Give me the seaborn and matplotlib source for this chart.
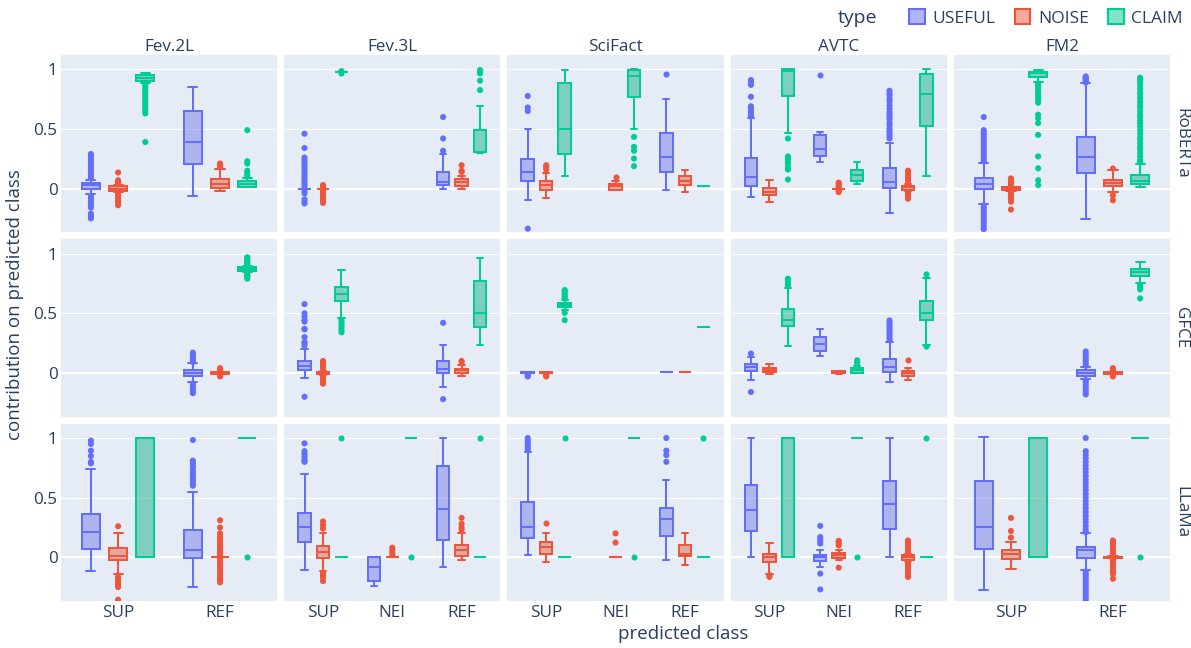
import numpy as np
import pandas as pd
import matplotlib
matplotlib.use("Agg")
import matplotlib.pyplot as plt
from matplotlib.patches import Patch
import seaborn as sns

MODELS = ["RoBERTa", "GFCE", "LLaMa"]
DATASETS = ["Fev.2L", "Fev.3L", "SciFact", "AVTC", "FM2"]
CLASSES_2 = ["SUP", "REF"]
CLASSES_3 = ["SUP", "NEI", "REF"]
DATASET_CLASSES = [CLASSES_2, CLASSES_3, CLASSES_3, CLASSES_3, CLASSES_2]
TYPES = ["USEFUL", "NOISE", "CLAIM"]
COLORS = ["#636EFA", "#EF553B", "#00CC96"]
Y_TICKS = [0, 0.5, 1]
Y_TICK_LABELS = ["0", "0.5", "1"]

# box summaries: (dataset, class, type, low whisker, q1, median, q3, high whisker)
BOX_ROBERTA = [
    ("Fev.2L", "SUP", "USEFUL", -0.042, 0.0, 0.028, 0.048, 0.076),
    ("Fev.2L", "SUP", "NOISE", -0.03, -0.02, 0.0, 0.02, 0.03),
    ("Fev.2L", "SUP", "CLAIM", 0.888, 0.905, 0.93, 0.95, 0.972),
    ("Fev.2L", "REF", "USEFUL", -0.064, 0.204, 0.387, 0.65, 0.852),
    ("Fev.2L", "REF", "NOISE", -0.022, 0.008, 0.042, 0.078, 0.168),
    ("Fev.2L", "REF", "CLAIM", 0.014, 0.017, 0.039, 0.062, 0.09),
    ("Fev.3L", "SUP", "USEFUL", 0.0, 0.0, 0.0, 0.0, 0.0),
    ("Fev.3L", "SUP", "NOISE", 0.0, 0.0, 0.0, 0.0, 0.0),
    ("Fev.3L", "SUP", "CLAIM", 0.975, 0.975, 0.975, 0.975, 0.975),
    ("Fev.3L", "REF", "USEFUL", -0.006, 0.028, 0.056, 0.14, 0.288),
    ("Fev.3L", "REF", "NOISE", -0.006, 0.025, 0.056, 0.081, 0.106),
    ("Fev.3L", "REF", "CLAIM", 0.30, 0.303, 0.31, 0.49, 0.692),
    ("SciFact", "SUP", "USEFUL", -0.098, 0.064, 0.14, 0.249, 0.5),
    ("SciFact", "SUP", "NOISE", -0.078, -0.008, 0.034, 0.064, 0.13),
    ("SciFact", "SUP", "CLAIM", 0.104, 0.286, 0.5, 0.888, 0.994),
    ("SciFact", "NEI", "NOISE", -0.008, -0.008, 0.022, 0.04, 0.064),
    ("SciFact", "NEI", "CLAIM", 0.5, 0.77, 0.94, 0.994, 1.0),
    ("SciFact", "REF", "USEFUL", -0.014, 0.143, 0.266, 0.462, 0.75),
    ("SciFact", "REF", "NOISE", -0.031, 0.031, 0.064, 0.104, 0.154),
    ("SciFact", "REF", "CLAIM", 0.02, 0.02, 0.02, 0.02, 0.02),
    ("AVTC", "SUP", "USEFUL", -0.07, 0.02, 0.098, 0.26, 0.588),
    ("AVTC", "SUP", "NOISE", -0.112, -0.053, -0.025, 0.006, 0.07),
    ("AVTC", "SUP", "CLAIM", 0.468, 0.776, 0.99, 1.0, 1.0),
    ("AVTC", "NEI", "USEFUL", 0.221, 0.277, 0.336, 0.451, 0.476),
    ("AVTC", "NEI", "NOISE", 0.0, 0.0, 0.0, 0.0, 0.0),
    ("AVTC", "NEI", "CLAIM", 0.036, 0.064, 0.112, 0.154, 0.224),
    ("AVTC", "REF", "USEFUL", -0.204, 0.008, 0.056, 0.174, 0.384),
    ("AVTC", "REF", "NOISE", -0.02, -0.008, 0.011, 0.025, 0.04),
    ("AVTC", "REF", "CLAIM", 0.109, 0.527, 0.79, 0.958, 1.0),
    ("FM2", "SUP", "USEFUL", -0.132, -0.006, 0.036, 0.092, 0.218),
    ("FM2", "SUP", "NOISE", -0.02, -0.01, 0.0, 0.01, 0.014),
    ("FM2", "SUP", "CLAIM", 0.896, 0.938, 0.966, 0.98, 0.994),
    ("FM2", "REF", "USEFUL", -0.258, 0.132, 0.266, 0.434, 0.882),
    ("FM2", "REF", "NOISE", -0.028, 0.02, 0.048, 0.076, 0.154),
    ("FM2", "REF", "CLAIM", 0.014, 0.036, 0.064, 0.112, 0.204),
]

OUT_ROBERTA = [
    ("Fev.2L", "SUP", "USEFUL", [0.09, 0.11, 0.13, 0.15, 0.17, 0.19, 0.21, 0.23, 0.25, 0.27, 0.29,
                                 -0.06, -0.08, -0.1, -0.12, -0.14, -0.16, -0.21, -0.23, -0.25]),
    ("Fev.2L", "SUP", "NOISE", [0.04, 0.05, 0.06, 0.07, 0.135, -0.04, -0.06, -0.08, -0.1, -0.12, -0.14]),
    ("Fev.2L", "SUP", "CLAIM", [0.87, 0.85, 0.83, 0.81, 0.79, 0.77, 0.75, 0.73, 0.71, 0.69, 0.67, 0.65, 0.63, 0.39]),
    ("Fev.2L", "REF", "NOISE", [0.18, 0.2, 0.21]),
    ("Fev.2L", "REF", "CLAIM", [0.11, 0.13, 0.15, 0.21, 0.23, 0.49]),
    ("Fev.3L", "SUP", "USEFUL", [0.02, 0.04, 0.06, 0.08, 0.1, 0.12, 0.14, 0.16, 0.18, 0.2, 0.22, 0.24, 0.26,
                                 0.34, 0.46, -0.02, -0.04, -0.09, -0.11, -0.125]),
    ("Fev.3L", "SUP", "NOISE", [0.01, 0.02, 0.03, -0.02, -0.04, -0.06, -0.08, -0.1, -0.12]),
    ("Fev.3L", "SUP", "CLAIM", [0.965, 0.985]),
    ("Fev.3L", "REF", "USEFUL", [0.317, 0.42, 0.6]),
    ("Fev.3L", "REF", "NOISE", [0.14, 0.15, 0.196]),
    ("Fev.3L", "REF", "CLAIM", [0.826, 0.905, 0.966, 0.98, 0.994]),
    ("SciFact", "SUP", "USEFUL", [0.776, 0.68, 0.65, -0.336]),
    ("SciFact", "SUP", "NOISE", [0.16, 0.18, 0.196]),
    ("SciFact", "NEI", "NOISE", [0.1]),
    ("SciFact", "NEI", "CLAIM", [0.434, 0.35, 0.317, 0.252, 0.188]),
    ("SciFact", "REF", "USEFUL", [0.96]),
    ("AVTC", "SUP", "USEFUL", [0.91, 0.89, 0.87, 0.77, 0.69, 0.67, 0.65, 0.63, 0.61]),
    ("AVTC", "SUP", "CLAIM", [0.42, 0.27, 0.25, 0.23, 0.21, 0.18, 0.16, 0.076]),
    ("AVTC", "NEI", "USEFUL", [0.952]),
    ("AVTC", "NEI", "NOISE", [0.01, 0.02, 0.03, 0.04, 0.05, -0.01, -0.02, -0.03]),
    ("AVTC", "REF", "USEFUL", [0.82, 0.8, 0.78, 0.75, 0.73, 0.7, 0.67, 0.64, 0.62, 0.6, 0.58, 0.55,
                               0.53, 0.5, 0.48, 0.46, 0.44, 0.42]),
    ("AVTC", "REF", "NOISE", [0.06, 0.08, 0.1, 0.12, 0.14, 0.15, -0.03, -0.045, -0.06, -0.075, -0.085]),
    ("FM2", "SUP", "USEFUL", [0.23, 0.25, 0.27, 0.29, 0.31, 0.33, 0.35, 0.37, 0.39, 0.41, 0.43, 0.45, 0.47,
                              0.49, 0.6, -0.14, -0.16, -0.18, -0.2, -0.22, -0.24, -0.26, -0.28, -0.3,
                              -0.32, -0.34]),
    ("FM2", "SUP", "NOISE", [0.03, 0.05, 0.07, 0.085, -0.03, -0.05, -0.07, -0.09, -0.11, -0.176]),
    ("FM2", "SUP", "CLAIM", [0.88, 0.86, 0.84, 0.82, 0.8, 0.78, 0.76, 0.74, 0.72, 0.62, 0.59, 0.55,
                             0.45, 0.27, 0.17, 0.07, 0.03]),
    ("FM2", "REF", "USEFUL", [0.89, 0.9, 0.91, 0.92, 0.93, 0.94]),
    ("FM2", "REF", "NOISE", [0.168, -0.056, -0.098]),
    ("FM2", "REF", "CLAIM", [0.93, 0.91, 0.89, 0.87, 0.84, 0.81, 0.79, 0.76, 0.73, 0.7, 0.68, 0.65, 0.62,
                             0.6, 0.57, 0.55, 0.52, 0.49, 0.46, 0.43, 0.41, 0.38, 0.35, 0.33, 0.3, 0.27,
                             0.24, 0.22]),
]

BOX_GFCE = [
    ("Fev.2L", "REF", "USEFUL", -0.076, -0.025, 0.003, 0.028, 0.084),
    ("Fev.2L", "REF", "NOISE", -0.01, -0.005, 0.0, 0.005, 0.01),
    ("Fev.2L", "REF", "CLAIM", 0.845, 0.857, 0.871, 0.885, 0.9),
    ("Fev.3L", "SUP", "USEFUL", -0.04, 0.022, 0.056, 0.1, 0.204),
    ("Fev.3L", "SUP", "NOISE", -0.02, -0.005, 0.0, 0.01, 0.02),
    ("Fev.3L", "SUP", "CLAIM", 0.457, 0.605, 0.664, 0.723, 0.863),
    ("Fev.3L", "REF", "USEFUL", -0.118, 0.003, 0.031, 0.1, 0.232),
    ("Fev.3L", "REF", "NOISE", -0.028, 0.0, 0.022, 0.036, 0.064),
    ("Fev.3L", "REF", "CLAIM", 0.232, 0.387, 0.5, 0.773, 0.964),
    ("SciFact", "SUP", "USEFUL", 0.0, 0.0, 0.005, 0.01, 0.01),
    ("SciFact", "SUP", "NOISE", 0.0, 0.0, 0.005, 0.01, 0.01),
    ("SciFact", "SUP", "CLAIM", 0.53, 0.549, 0.569, 0.588, 0.61),
    ("SciFact", "REF", "USEFUL", 0.005, 0.005, 0.005, 0.005, 0.005),
    ("SciFact", "REF", "NOISE", 0.01, 0.01, 0.01, 0.01, 0.01),
    ("SciFact", "REF", "CLAIM", 0.387, 0.387, 0.387, 0.387, 0.387),
    ("AVTC", "SUP", "USEFUL", -0.056, 0.017, 0.05, 0.078, 0.134),
    ("AVTC", "SUP", "NOISE", -0.01, 0.008, 0.025, 0.045, 0.073),
    ("AVTC", "SUP", "CLAIM", 0.224, 0.395, 0.443, 0.532, 0.71),
    ("AVTC", "NEI", "USEFUL", 0.146, 0.185, 0.24, 0.3, 0.367),
    ("AVTC", "NEI", "NOISE", -0.005, 0.0, 0.008, 0.015, 0.02),
    ("AVTC", "NEI", "CLAIM", 0.003, 0.003, 0.028, 0.045, 0.06),
    ("AVTC", "REF", "USEFUL", -0.08, 0.008, 0.05, 0.12, 0.26),
    ("AVTC", "REF", "NOISE", -0.056, -0.028, 0.0, 0.017, 0.045),
    ("AVTC", "REF", "CLAIM", 0.23, 0.443, 0.5, 0.605, 0.80),
    ("FM2", "REF", "USEFUL", -0.05, -0.022, 0.0, 0.022, 0.05),
    ("FM2", "REF", "NOISE", -0.01, -0.005, 0.0, 0.005, 0.01),
    ("FM2", "REF", "CLAIM", 0.756, 0.812, 0.843, 0.868, 0.933),
]

OUT_GFCE = [
    ("Fev.2L", "REF", "USEFUL", [0.09, 0.11, 0.13, 0.15, 0.17, -0.09, -0.11, -0.13, -0.15, -0.17]),
    ("Fev.2L", "REF", "NOISE", [0.02, 0.03, 0.04, -0.02, -0.03]),
    ("Fev.2L", "REF", "CLAIM", [0.91, 0.92, 0.93, 0.94, 0.95, 0.96, 0.97, 0.83, 0.82, 0.81, 0.8, 0.79]),
    ("Fev.3L", "SUP", "USEFUL", [0.23, 0.25, 0.26, 0.3, 0.365, 0.37, 0.43, 0.44, 0.47, 0.5, 0.577, -0.2]),
    ("Fev.3L", "SUP", "NOISE", [0.04, 0.06, 0.08, 0.1, -0.03, -0.05, -0.07, -0.09]),
    ("Fev.3L", "SUP", "CLAIM", [0.44, 0.42, 0.4, 0.38, 0.36, 0.34]),
    ("Fev.3L", "REF", "USEFUL", [0.42, -0.22]),
    ("Fev.3L", "REF", "NOISE", [0.09, 0.1]),
    ("SciFact", "SUP", "USEFUL", [-0.01, -0.02, -0.03]),
    ("SciFact", "SUP", "NOISE", [-0.01, -0.02, -0.03]),
    ("SciFact", "SUP", "CLAIM", [0.625, 0.64, 0.655, 0.67, 0.685, 0.695, 0.504, 0.443]),
    ("AVTC", "SUP", "USEFUL", [0.162, -0.16]),
    ("AVTC", "SUP", "CLAIM", [0.73, 0.75, 0.77, 0.79]),
    ("AVTC", "NEI", "CLAIM", [0.08, 0.09, 0.106]),
    ("AVTC", "REF", "USEFUL", [0.28, 0.3, 0.32, 0.34, 0.36, 0.38, 0.4, 0.42, 0.44]),
    ("AVTC", "REF", "NOISE", [0.112]),
    ("AVTC", "REF", "CLAIM", [0.826, 0.22]),
    ("FM2", "REF", "USEFUL", [0.06, 0.08, 0.1, 0.12, 0.14, 0.16, 0.18, -0.06, -0.08, -0.1, -0.12, -0.14,
                              -0.16, -0.18]),
    ("FM2", "REF", "NOISE", [0.02, 0.03, 0.04, -0.02, -0.03]),
    ("FM2", "REF", "CLAIM", [0.737, 0.72, 0.7, 0.625]),
]

BOX_LLAMA = [
    ("Fev.2L", "SUP", "USEFUL", -0.112, 0.073, 0.213, 0.364, 0.737),
    ("Fev.2L", "SUP", "NOISE", -0.143, -0.025, 0.008, 0.078, 0.207),
    ("Fev.2L", "SUP", "CLAIM", 0.0, 0.0, 1.0, 1.0, 1.0),
    ("Fev.2L", "REF", "USEFUL", -0.25, -0.005, 0.059, 0.232, 0.546),
    ("Fev.2L", "REF", "NOISE", 0.0, 0.0, 0.0, 0.0, 0.0),
    ("Fev.2L", "REF", "CLAIM", 1.0, 1.0, 1.0, 1.0, 1.0),
    ("Fev.3L", "SUP", "USEFUL", -0.106, 0.132, 0.25, 0.367, 0.697),
    ("Fev.3L", "SUP", "NOISE", -0.115, -0.003, 0.045, 0.092, 0.2),
    ("Fev.3L", "SUP", "CLAIM", 0.0, 0.0, 0.0, 0.0, 0.0),
    ("Fev.3L", "NEI", "USEFUL", -0.24, -0.2, -0.08, 0.0, 0.0),
    ("Fev.3L", "NEI", "NOISE", 0.005, 0.005, 0.005, 0.005, 0.005),
    ("Fev.3L", "NEI", "CLAIM", 1.0, 1.0, 1.0, 1.0, 1.0),
    ("Fev.3L", "REF", "USEFUL", -0.084, 0.143, 0.406, 0.767, 1.0),
    ("Fev.3L", "REF", "NOISE", -0.025, 0.008, 0.059, 0.1, 0.2),
    ("Fev.3L", "REF", "CLAIM", 0.0, 0.0, 0.0, 0.0, 0.0),
    ("SciFact", "SUP", "USEFUL", 0.017, 0.165, 0.25, 0.465, 0.882),
    ("SciFact", "SUP", "NOISE", -0.042, 0.031, 0.087, 0.132, 0.2),
    ("SciFact", "SUP", "CLAIM", 0.0, 0.0, 0.0, 0.0, 0.0),
    ("SciFact", "NEI", "NOISE", 0.0, 0.0, 0.0, 0.0, 0.0),
    ("SciFact", "NEI", "CLAIM", 1.0, 1.0, 1.0, 1.0, 1.0),
    ("SciFact", "REF", "USEFUL", -0.02, 0.176, 0.317, 0.417, 0.644),
    ("SciFact", "REF", "NOISE", -0.067, 0.008, 0.03, 0.106, 0.2),
    ("SciFact", "REF", "CLAIM", 0.0, 0.0, 0.0, 0.0, 0.0),
    ("AVTC", "SUP", "USEFUL", 0.0, 0.221, 0.4, 0.608, 1.0),
    ("AVTC", "SUP", "NOISE", -0.137, -0.04, 0.0, 0.028, 0.123),
    ("AVTC", "SUP", "CLAIM", 0.0, 0.0, 1.0, 1.0, 1.0),
    ("AVTC", "NEI", "USEFUL", -0.08, -0.034, 0.0, 0.022, 0.06),
    ("AVTC", "NEI", "NOISE", -0.025, -0.008, 0.017, 0.036, 0.06),
    ("AVTC", "NEI", "CLAIM", 1.0, 1.0, 1.0, 1.0, 1.0),
    ("AVTC", "REF", "USEFUL", 0.0, 0.238, 0.445, 0.636, 1.0),
    ("AVTC", "REF", "NOISE", -0.03, -0.02, 0.003, 0.02, 0.03),
    ("AVTC", "REF", "CLAIM", 0.0, 0.0, 0.0, 0.0, 0.0),
    ("FM2", "SUP", "USEFUL", -0.277, 0.067, 0.25, 0.636, 1.008),
    ("FM2", "SUP", "NOISE", -0.095, -0.011, 0.031, 0.064, 0.129),
    ("FM2", "SUP", "CLAIM", 0.0, 0.0, 1.0, 1.0, 1.0),
    ("FM2", "REF", "USEFUL", -0.109, -0.006, 0.059, 0.087, 0.2),
    ("FM2", "REF", "NOISE", -0.01, -0.005, 0.0, 0.005, 0.01),
    ("FM2", "REF", "CLAIM", 1.0, 1.0, 1.0, 1.0, 1.0),
]

OUT_LLAMA = [
    ("Fev.2L", "SUP", "USEFUL", [0.787, 0.8, 0.849, 0.894, 0.95, 0.978]),
    ("Fev.2L", "SUP", "NOISE", [0.26, -0.165, -0.19, -0.21, -0.23, -0.25, -0.356]),
    ("Fev.2L", "REF", "USEFUL", [0.983, 0.81, 0.79, 0.77, 0.75, 0.72, 0.7, 0.68, 0.66, 0.64, 0.62, 0.6]),
    ("Fev.2L", "REF", "NOISE", [0.31, 0.25, 0.2, 0.17, 0.15, 0.13, 0.11, 0.09, 0.07, 0.05, 0.03, 0.01,
                                -0.01, -0.03, -0.05, -0.07, -0.09, -0.11, -0.13, -0.15, -0.17, -0.19,
                                -0.21]),
    ("Fev.2L", "REF", "CLAIM", [0.0]),
    ("Fev.3L", "SUP", "USEFUL", [0.8, 0.81, 0.83, 0.85, 0.87, 0.89, 0.955]),
    ("Fev.3L", "SUP", "NOISE", [0.24, 0.27, 0.3, -0.13, -0.15, -0.17, -0.2]),
    ("Fev.3L", "SUP", "CLAIM", [1.0]),
    ("Fev.3L", "NEI", "NOISE", [0.02, 0.04, 0.06, 0.08]),
    ("Fev.3L", "NEI", "CLAIM", [0.0]),
    ("Fev.3L", "REF", "NOISE", [0.23, 0.25, 0.28, 0.33]),
    ("Fev.3L", "REF", "CLAIM", [1.0]),
    ("SciFact", "SUP", "USEFUL", [0.9, 0.92, 0.94, 0.96, 0.98, 1.0]),
    ("SciFact", "SUP", "NOISE", [0.286]),
    ("SciFact", "SUP", "CLAIM", [1.0]),
    ("SciFact", "NEI", "NOISE", [0.123, 0.2]),
    ("SciFact", "NEI", "CLAIM", [0.0]),
    ("SciFact", "REF", "USEFUL", [0.8, 0.857, 0.894, 1.0]),
    ("SciFact", "REF", "CLAIM", [1.0]),
    ("AVTC", "SUP", "NOISE", [-0.15, -0.165]),
    ("AVTC", "NEI", "USEFUL", [0.263, 0.17, 0.15, 0.13, 0.115, -0.137, -0.27]),
    ("AVTC", "NEI", "NOISE", [0.1, 0.115, 0.13, 0.137, -0.087]),
    ("AVTC", "NEI", "CLAIM", [0.0]),
    ("AVTC", "REF", "NOISE", [0.04, 0.06, 0.08, 0.1, 0.12, 0.14, -0.04, -0.06, -0.08, -0.1, -0.12,
                              -0.14, -0.165]),
    ("AVTC", "REF", "CLAIM", [1.0]),
    ("FM2", "SUP", "NOISE", [0.165, 0.22, 0.33]),
    ("FM2", "REF", "USEFUL", [1.0, 0.89, 0.86, 0.83, 0.8, 0.77, 0.74, 0.71, 0.68, 0.65, 0.62, 0.59, 0.56,
                              0.53, 0.5, 0.47, 0.44, 0.41, 0.38, 0.35, 0.32, 0.29, 0.26, 0.23, 0.21,
                              -0.12, -0.14, -0.16, -0.18, -0.2, -0.22, -0.24, -0.26, -0.28, -0.3,
                              -0.32, -0.34, -0.36]),
    ("FM2", "REF", "NOISE", [0.14, 0.12, 0.1, 0.08, 0.06, 0.04, 0.02, -0.02, -0.04, -0.06, -0.08, -0.1,
                             -0.12, -0.14, -0.18]),
    ("FM2", "REF", "CLAIM", [0.0]),
]

# ---------------------------------------------------------------- tables
PAL = dict(zip(TYPES, COLORS))
box_rows, out_rows = [], []
for model, boxes, outs in zip(MODELS, [BOX_ROBERTA, BOX_GFCE, BOX_LLAMA],
                              [OUT_ROBERTA, OUT_GFCE, OUT_LLAMA]):
    for ds, cls, typ, lo, q1, med, q3, hi in boxes:
        for v in (lo, q1, med, q3, hi):
            box_rows.append((model, ds, cls, typ, v))
    for ds, cls, typ, vals in outs:
        for v in vals:
            out_rows.append((model, ds, cls, typ, v))
box_df = pd.DataFrame(box_rows, columns=["model", "dataset", "cls", "type", "val"])
out_df = pd.DataFrame(out_rows, columns=["model", "dataset", "cls", "type", "val"])

# ---------------------------------------------------------------- style
TXT = "#2a3f5f"
sns.set_theme(style="darkgrid", rc={"axes.facecolor": "#E5ECF6", "grid.color": "white",
                                    "figure.facecolor": "white"})
plt.rcParams["font.family"] = ["Open Sans", "DejaVu Sans"]

fig, axes = plt.subplots(3, 5, figsize=(11.91, 6.48), dpi=100, sharey=True)
fig.subplots_adjust(left=0.0512, right=0.9824, top=0.9151, bottom=0.0725,
                    wspace=0.0324, hspace=0.0395)

for i, model in enumerate(MODELS):
    for j, ds in enumerate(DATASETS):
        ax = axes[i, j]
        cats = DATASET_CLASSES[j]
        for t in TYPES:
            sub = box_df[(box_df.model == model) & (box_df.dataset == ds) & (box_df.type == t)]
            if sub.empty:
                continue
            sns.boxplot(data=sub, x="cls", y="val", hue="type", order=cats, hue_order=TYPES,
                        palette=PAL, linecolor=PAL[t], dodge=True, width=0.8, gap=0.325,
                        whis=(0, 100), linewidth=1.45, fliersize=0, legend=False, ax=ax)
        osub = out_df[(out_df.model == model) & (out_df.dataset == ds)]
        if not osub.empty:
            sns.stripplot(data=osub, x="cls", y="val", hue="type", order=cats, hue_order=TYPES,
                          palette=PAL, dodge=True, jitter=False, size=4.4, linewidth=0,
                          legend=False, zorder=3, ax=ax)
        for p in ax.patches:
            fc = p.get_facecolor()
            p.set_facecolor((fc[0], fc[1], fc[2], 0.5))

        ax.set_xlim(-0.56, len(cats) - 1 + 0.56)
        ax.set_ylim(-0.367, 1.12)
        ax.set_yticks(Y_TICKS)
        ax.set_yticklabels(Y_TICK_LABELS)
        ax.set_xlabel("")
        ax.set_ylabel("")
        ax.set_axisbelow(True)
        ax.xaxis.grid(False)
        ax.yaxis.grid(True, color="white", linewidth=0.8)
        ax.axhline(0, color="white", linewidth=1.6, zorder=0.8)
        for s in ax.spines.values():
            s.set_visible(False)
        ax.tick_params(axis="both", length=0, labelsize=12.3, colors=TXT)
        ax.tick_params(axis="y", pad=2.5)
        ax.tick_params(axis="x", pad=3)
        if i < 2:
            ax.tick_params(labelbottom=False)
        if j > 0:
            ax.tick_params(labelleft=False)
        if i == 0:
            ax.set_title(ds, fontsize=12.3, color=TXT, pad=3)
        if j == 4:
            ax.annotate(model, xy=(1, 0.5), xycoords="axes fraction", xytext=(3, 0),
                        textcoords="offset pixels", rotation=-90, ha="left", va="center",
                        fontsize=12.3, color=TXT)

fig.text(15 / 1191, 1 - 305 / 648, "contribution on predicted class", rotation=90,
         ha="center", va="center", fontsize=13.5, color=TXT)
fig.text(683 / 1191, 1 - 634 / 648, "predicted class", ha="center", va="center",
         fontsize=13.5, color=TXT)

handles = [Patch(facecolor=(*matplotlib.colors.to_rgb(c), 0.5), edgecolor=c, linewidth=1.5)
           for c in COLORS]
fig.legend(handles, TYPES, loc="center right", bbox_to_anchor=(1183 / 1191, 1 - 18 / 648),
           ncol=3, frameon=False, fontsize=12.5, handlelength=0.9, handleheight=0.9,
           handletextpad=0.45, columnspacing=1.1, borderpad=0, borderaxespad=0,
           labelcolor=TXT)
fig.text(877 / 1191, 1 - 18 / 648, "type", ha="right", va="center", fontsize=14, color=TXT)

fig.savefig("out.png", dpi=100)
